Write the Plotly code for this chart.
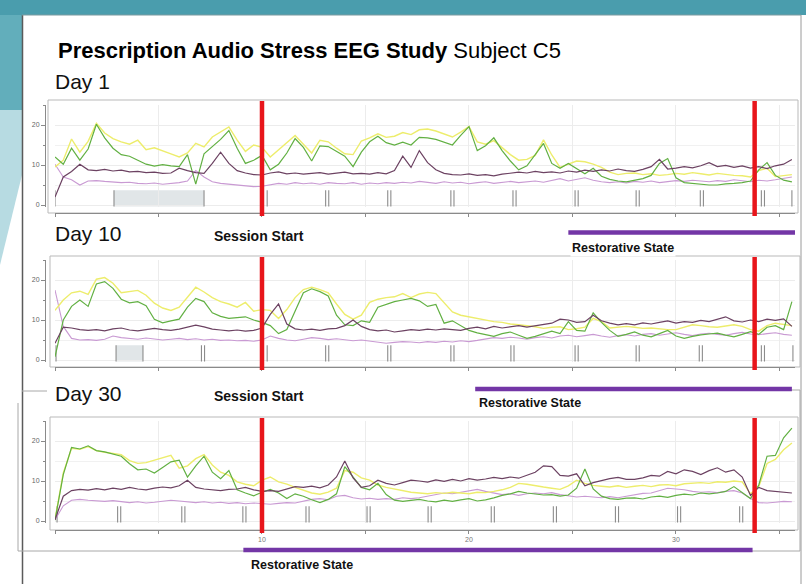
import plotly.graph_objects as go

W, H = 806, 584

# ---------------- data ----------------
minutes = [round(0.4 * i, 1) for i in range(90)]

d1_yellow = [9.5, 11.2, 16.5, 13.2, 15.9, 20.4, 18.0, 16.6, 15.8, 15.2,
             16.2, 13.8, 14.3, 13.6, 12.8, 12.0, 13.0, 15.4, 14.5, 17.0,
             18.2, 19.5, 16.2, 13.4, 15.0, 14.4, 12.0, 13.8, 15.6, 17.4,
             15.2, 13.0, 16.2, 15.8, 14.2, 12.8, 12.6, 16.0, 16.8, 17.8,
             16.9, 17.2, 18.1, 17.6, 18.8, 19.0, 18.5, 17.8, 17.0, 18.2,
             19.6, 15.8, 15.2, 16.1, 14.3, 12.6, 11.2, 11.4, 12.4, 16.3,
             12.5, 9.4, 10.2, 11.0, 10.8, 10.2, 9.4, 8.2, 7.6, 7.9,
             8.0, 7.6, 7.8, 7.4, 7.6, 7.9, 7.7, 8.1, 7.8, 7.5,
             7.9, 7.6, 7.4, 7.3, 7.0, 8.6, 9.2, 7.1, 7.3, 7.6]
d1_green = [12.0, 10.2, 14.2, 11.2, 14.0, 20.2, 16.8, 14.2, 12.6, 12.2,
            11.2, 10.2, 9.7, 10.1, 9.8, 9.6, 12.6, 5.2, 12.8, 14.6,
            16.4, 18.6, 14.2, 10.4, 11.2, 12.4, 8.8, 10.2, 13.0, 16.6,
            14.4, 11.0, 14.8, 14.6, 13.4, 12.2, 9.6, 13.2, 15.8, 17.2,
            15.6, 15.0, 15.7, 15.0, 16.9, 16.8, 16.4, 15.6, 15.0, 17.4,
            19.6, 13.6, 14.8, 16.8, 13.6, 11.0, 8.8, 9.8, 12.6, 15.4,
            10.4, 9.2, 10.4, 9.0, 7.8, 9.2, 7.2, 6.4, 6.0, 5.8,
            6.2, 6.6, 7.4, 10.4, 11.6, 6.8, 5.6, 5.4, 5.2, 5.0,
            5.0, 5.3, 5.4, 5.6, 6.0, 8.8, 10.6, 7.4, 6.2, 5.8]
d1_dark = [2.0, 7.0, 8.4, 10.2, 8.8, 8.6, 8.9, 8.5, 8.7, 8.3,
           8.4, 8.1, 8.2, 7.9, 8.0, 9.2, 8.6, 8.1, 7.9, 10.4,
           13.2, 10.4, 8.6, 8.0, 7.6, 7.5, 8.0, 8.3, 7.8, 8.0,
           7.7, 7.9, 8.1, 7.7, 7.9, 8.2, 7.8, 7.9, 7.7, 8.1,
           7.8, 8.6, 12.2, 9.4, 13.6, 10.6, 8.8, 7.9, 7.6, 7.5,
           7.8, 7.4, 7.6, 7.3, 7.7, 7.9, 8.2, 8.0, 8.4, 8.1,
           8.3, 8.0, 8.5, 8.2, 8.7, 8.4, 8.8, 8.5, 9.0, 8.6,
           8.4, 8.9, 9.6, 11.4, 9.0, 9.2, 9.6, 9.3, 9.8, 10.6,
           9.6, 9.9, 9.4, 9.8, 9.2, 9.6, 9.1, 9.8, 10.2, 11.4]
d1_pink = [10.2, 7.0, 6.3, 5.0, 6.0, 6.1, 5.9, 5.8, 5.6, 5.7,
           5.4, 5.3, 5.5, 5.2, 5.4, 5.6, 6.0, 8.6, 7.0, 5.8,
           5.4, 5.2, 5.0, 4.8, 4.6, 4.7, 5.1, 5.4, 5.2, 5.6,
           5.3, 5.5, 5.2, 5.6, 5.4, 5.3, 5.6, 5.2, 5.5, 5.3,
           5.6, 5.4, 5.7, 5.5, 5.9, 5.6, 5.4, 5.8, 5.5, 5.7,
           5.3, 5.6, 5.8, 5.4, 5.6, 5.9, 5.6, 5.8, 6.0, 5.7,
           6.2, 6.6, 6.0, 6.4, 6.8, 6.2, 5.8, 5.6, 5.8, 5.5,
           5.9, 5.7, 6.0, 5.6, 5.8, 6.1, 5.9, 6.2, 6.0, 5.8,
           6.1, 5.9, 6.3, 6.0, 5.8, 6.2, 6.0, 6.3, 6.6, 7.0]

d10_yellow = [12.4, 15.0, 16.8, 17.2, 16.4, 20.2, 20.6, 19.2, 16.8, 17.1,
              17.4, 16.2, 14.2, 13.0, 12.4, 13.2, 15.6, 18.2, 17.0, 15.6,
              14.6, 14.0, 13.2, 14.4, 12.2, 12.6, 12.4, 10.4, 12.6, 15.6,
              17.6, 18.2, 17.6, 16.8, 14.0, 11.4, 10.2, 11.2, 14.4, 15.2,
              15.6, 15.8, 16.6, 15.6, 16.5, 16.9, 16.6, 14.2, 12.0, 11.2,
              10.8, 10.5, 10.0, 9.6, 9.4, 9.0, 8.8, 8.6, 8.3, 7.9,
              8.2, 8.3, 7.6, 7.8, 8.2, 10.4, 9.6, 8.0, 8.2, 8.4,
              8.2, 7.9, 8.0, 7.8, 7.6, 7.6, 8.2, 8.8, 8.6, 8.3,
              8.2, 8.5, 8.8, 8.4, 7.6, 7.2, 8.6, 9.2, 8.9, 8.6]
d10_green = [0.8, 10.0, 13.4, 15.0, 13.4, 19.0, 19.6, 17.9, 15.2, 14.3,
             14.6, 13.6, 10.2, 9.3, 9.8, 10.2, 13.2, 15.4, 14.6, 11.8,
             10.9, 10.4, 10.6, 10.8, 10.0, 9.4, 8.6, 6.6, 7.6, 12.4,
             16.8, 17.8, 17.1, 16.0, 11.2, 8.8, 8.6, 9.8, 9.4, 13.2,
             14.0, 14.6, 15.0, 15.4, 14.8, 13.4, 13.9, 9.2, 9.8, 8.6,
             7.4, 6.8, 6.4, 5.9, 6.6, 7.0, 6.2, 5.4, 5.9, 6.6,
             7.2, 6.6, 9.6, 7.4, 7.2, 11.8, 9.4, 7.4, 5.9, 6.4,
             7.0, 6.2, 5.8, 6.6, 7.4, 6.0, 5.4, 5.9, 6.3, 6.5,
             6.7, 6.2, 5.8, 6.4, 7.1, 6.4, 8.2, 8.6, 7.6, 14.6]
d10_dark = [4.2, 8.2, 8.0, 7.6, 7.4, 7.6, 7.3, 7.8, 8.0, 7.5,
            7.3, 7.6, 7.9, 7.6, 7.4, 7.7, 8.2, 8.7, 8.3, 7.7,
            7.5, 7.3, 7.5, 7.2, 7.4, 8.0, 11.4, 14.0, 9.0, 7.8,
            7.5, 7.7, 7.4, 7.8, 7.9, 8.6, 10.0, 8.4, 7.6, 7.3,
            7.5, 7.0, 7.3, 7.6, 7.4, 7.7, 7.5, 7.8, 7.6, 7.4,
            7.9, 8.2, 7.8, 8.4, 8.0, 8.3, 8.6, 8.2, 8.5, 8.8,
            9.2, 10.2, 10.0, 9.4, 9.6, 11.2, 9.8, 9.2, 8.8, 9.1,
            8.8, 9.3, 9.0, 9.4, 9.8, 9.2, 9.6, 9.4, 9.9, 9.6,
            10.2, 10.8, 9.8, 9.5, 10.0, 9.6, 10.2, 9.9, 10.3, 8.4]
d10_pink = [17.5, 8.4, 5.4, 5.0, 5.1, 4.9, 5.2, 6.0, 5.6, 5.4,
            5.2, 5.5, 5.3, 5.0, 5.2, 5.4, 5.1, 5.3, 5.0, 5.2,
            4.9, 5.0, 4.8, 4.9, 4.7, 5.0, 6.0, 5.4, 5.0, 4.8,
            5.2, 5.6, 5.4, 5.1, 5.3, 5.0, 4.8, 5.0, 4.7, 4.5,
            4.2, 4.4, 4.6, 4.5, 4.3, 4.6, 4.4, 4.7, 4.5, 4.8,
            4.6, 4.9, 5.2, 5.6, 5.4, 5.7, 5.5, 5.2, 5.6, 5.8,
            5.5, 6.0, 6.2, 5.8, 6.1, 6.4, 6.0, 5.7, 6.1, 6.3,
            6.0, 6.4, 6.6, 6.2, 6.5, 6.8, 6.4, 6.1, 6.5, 6.7,
            6.4, 6.2, 6.6, 6.9, 6.5, 6.3, 6.6, 6.8, 6.4, 6.2]

d30_yellow = [0.4, 12.0, 18.2, 17.9, 18.6, 17.6, 17.2, 16.9, 16.6, 15.1,
              14.4, 14.6, 15.2, 15.8, 16.4, 13.2, 13.8, 15.6, 16.6, 14.0,
              12.2, 11.4, 9.8, 9.2, 8.8, 10.2, 11.0, 9.8, 9.2, 8.4,
              7.6, 7.0, 6.7, 7.2, 8.2, 12.6, 12.2, 10.8, 10.2, 9.0,
              8.4, 8.0, 7.6, 7.2, 7.0, 6.8, 7.1, 6.9, 7.2, 7.0,
              6.8, 7.2, 7.1, 7.4, 7.8, 8.4, 9.4, 9.2, 8.8, 8.5,
              8.2, 7.9, 8.8, 10.2, 9.4, 8.9, 8.7, 8.5, 8.8, 8.4,
              8.7, 8.9, 8.6, 9.0, 9.1, 8.8, 9.3, 9.5, 9.6, 9.4,
              9.8, 9.7, 10.0, 9.8, 6.8, 8.6, 14.4, 15.4, 17.8, 19.5]
d30_green = [0.2, 11.6, 18.4, 18.0, 18.8, 17.6, 17.3, 16.8, 16.2, 14.3,
             12.8, 13.0, 12.0, 13.4, 14.8, 15.2, 11.0, 13.8, 16.2, 12.2,
             10.6, 12.6, 7.8, 7.0, 6.3, 7.2, 7.9, 7.0, 5.6, 6.8,
             6.2, 5.3, 4.6, 5.4, 6.8, 13.6, 11.0, 8.4, 7.8, 9.4,
             6.6, 5.2, 4.9, 5.2, 5.4, 5.0, 4.8, 5.2, 4.9, 5.3,
             5.6, 5.0, 5.3, 5.8, 6.4, 6.8, 7.4, 7.0, 6.8, 6.5,
             6.6, 6.2, 6.5, 8.2, 13.0, 8.0, 6.2, 5.6, 5.4, 5.7,
             5.8, 5.5, 6.0, 6.2, 5.9, 6.4, 6.7, 6.5, 7.0, 6.8,
             7.0, 7.4, 8.6, 7.2, 5.6, 9.0, 16.2, 16.4, 20.8, 23.2]
d30_dark = [0.3, 6.2, 7.6, 7.9, 7.7, 8.1, 7.8, 8.2, 7.9, 8.4,
            8.0, 7.8, 8.2, 8.5, 8.3, 8.8, 10.2, 8.4, 8.0, 7.8,
            7.6, 7.9, 8.0, 8.4, 7.8, 7.4, 7.6, 7.4, 8.0, 8.6,
            8.4, 8.7, 8.3, 9.0, 11.0, 15.0, 10.8, 8.4, 8.8, 10.2,
            9.4, 9.0, 9.6, 10.2, 10.0, 9.7, 10.3, 9.9, 10.4, 10.0,
            10.6, 10.2, 10.5, 10.9, 10.6, 11.0, 10.7, 11.4, 12.2, 13.8,
            13.6, 11.4, 11.2, 11.8, 8.8, 9.6, 10.1, 10.6, 10.9, 10.4,
            10.4, 10.8, 11.4, 11.2, 12.4, 11.8, 12.8, 12.4, 11.6, 12.6,
            13.3, 12.2, 12.8, 11.0, 6.4, 8.4, 7.6, 7.4, 7.2, 7.0]
d30_pink = [0.3, 3.8, 5.2, 5.4, 5.2, 5.0, 4.9, 5.1, 4.8, 4.6,
            4.8, 4.5, 4.7, 4.9, 5.2, 5.0, 4.8, 4.6, 4.8, 4.5,
            4.7, 4.4, 4.6, 4.3, 4.5, 4.4, 4.2, 4.4, 4.6, 4.5,
            5.0, 5.4, 5.6, 5.3, 6.2, 6.4, 5.8, 5.5, 5.7, 5.4,
            5.6, 5.4, 5.8, 5.6, 5.8, 6.2, 6.6, 7.0, 6.8, 7.2,
            7.6, 7.9, 7.4, 7.0, 6.6, 6.8, 6.4, 6.8, 7.0, 6.8,
            7.1, 6.6, 6.3, 6.0, 6.2, 6.0, 5.8, 6.1, 5.8, 6.2,
            6.5, 6.9, 7.0, 7.6, 8.2, 8.0, 7.8, 7.4, 7.2, 7.3,
            7.1, 7.4, 7.6, 7.0, 5.6, 4.6, 4.5, 4.7, 4.9, 4.8]

# event markers (minutes)
d1_single = [0.0, 2.85, 7.2, 10.25, 35.6]
d1_double = [13.15, 16.15, 19.2, 22.2, 25.2, 28.15, 31.25, 34.2]
d1_shaded = [2.85, 7.2]
d10_single = [0.05, 2.95, 4.25, 10.25, 35.65]
d10_double = [7.15, 13.15, 16.15, 19.2, 22.1, 25.2, 28.15, 31.2, 34.2]
d10_shaded = [2.95, 4.25]
d30_single = [0.1]
d30_double = [3.1, 6.2, 9.15, 12.2, 15.15, 18.1, 21.15, 24.15, 27.15, 30.15, 33.15]
d30_shaded = None

session_start = [10.0, 10.0, 10.0]
session_end = [33.8, 33.8, 33.8]
restorative_start = [24.8, 20.3, 9.1]
restorative_end = [35.85, 35.6, 33.7]

x_tick_vals = [0, 5, 10, 15, 20, 25, 30, 35]
x_tick_text_bottom = ["", "", "10", "", "20", "", "30", ""]
x_tick_text_blank = ["", "", "", "", "", "", "", ""]
y_tick_vals = [0, 10, 20]

day_labels = ["Day 1", "Day 10", "Day 30"]

# ---------------- styling ----------------
YELLOW = "#eded6c"
GREEN = "#62b043"
DARK = "#6c4262"
PINK = "#c99ad3"
RED = "#e8151b"
PURPLE = "#7336a6"
TEAL = "#4a9dad"
FONT = "Liberation Sans, Arial, sans-serif"


def fx(p):
    return p / W


def fy(p):
    return 1 - p / H


panels = [
    dict(series=(d1_yellow, d1_green, d1_pink, d1_dark), single=d1_single, double=d1_double,
         shaded=d1_shaded, zero=205, axis=213, frame=(48, 100, 798, 213), ticks=x_tick_text_blank,
         bar_y=232.5, day_y=81, rest_px=(570, 248)),
    dict(series=(d10_yellow, d10_green, d10_pink, d10_dark), single=d10_single, double=d10_double,
         shaded=d10_shaded, zero=360, axis=367, frame=(50, 256, 800, 367), ticks=x_tick_text_blank,
         bar_y=389, day_y=233, rest_px=(477, 403)),
    dict(series=(d30_yellow, d30_green, d30_pink, d30_dark), single=d30_single, double=d30_double,
         shaded=d30_shaded, zero=521, axis=530, frame=(50, 417, 798, 530), ticks=x_tick_text_bottom,
         bar_y=550, day_y=393, rest_px=(249, 565)),
]

fig = go.Figure()
shapes = []
annotations = []

# slide background decoration
shapes.append(dict(type="rect", xref="paper", yref="paper", x0=0, x1=1, y0=fy(15), y1=1,
                   fillcolor=TEAL, line=dict(width=0), layer="below"))
shapes.append(dict(type="rect", xref="paper", yref="paper", x0=0, x1=fx(22), y0=fy(110), y1=fy(15),
                   fillcolor="#62aebb", line=dict(width=0), layer="below"))
shapes.append(dict(type="path", xref="paper", yref="paper",
                   path=f"M 0 {fy(110)} L {fx(22)} {fy(110)} L {fx(22)} {fy(175)} L 0 {fy(265)} Z",
                   fillcolor="#b7dbe2", line=dict(width=0), layer="below"))
shapes.append(dict(type="line", xref="paper", yref="paper", x0=fx(22.5), x1=fx(22.5), y0=0, y1=fy(15),
                   line=dict(color="#5a5a5a", width=1.5), layer="below"))
shapes.append(dict(type="line", xref="paper", yref="paper", x0=fx(22), x1=fx(801), y0=fy(15), y1=fy(15),
                   line=dict(color="#7a9aa0", width=1), layer="below"))
shapes.append(dict(type="line", xref="paper", yref="paper", x0=fx(801), x1=fx(801), y0=0, y1=fy(15),
                   line=dict(color="#9a9a9a", width=1), layer="below"))
# Day 30 picture frame
for (a, b, c, d) in [(18, 403, 18, 551), (18, 551, 800, 551), (800, 390, 800, 551),
                     (22, 391, 47, 391), (757, 390, 800, 390)]:
    shapes.append(dict(type="line", xref="paper", yref="paper", x0=fx(a), x1=fx(c), y0=fy(b), y1=fy(d),
                       line=dict(color="#a8a8a8", width=1), layer="below"))

layout_axes = {}
OFF = 0.075
for i, p in enumerate(panels):
    n = "" if i == 0 else str(i + 1)
    xa, ya = "x" + n, "y" + n
    x0p, y0p, x1p, y1p = p["frame"]
    shapes.append(dict(type="rect", xref="paper", yref="paper", x0=fx(x0p), x1=fx(x1p), y0=fy(y1p), y1=fy(y0p),
                       line=dict(color="#b9b9b9", width=1), fillcolor="rgba(0,0,0,0)", layer="below"))
    if p["shaded"]:
        shapes.append(dict(type="rect", xref=xa, yref=ya, x0=p["shaded"][0], x1=p["shaded"][1], y0=-0.35, y1=3.7,
                           fillcolor="#e1e6e8", line=dict(width=0), layer="below"))
    z = p["zero"]
    layout_axes["xaxis" + n] = dict(
        domain=[fx(55), fx(795)], range=[0, 35.75], anchor="free", position=fy(p["axis"]),
        showline=True, linecolor="#8a8a8a", linewidth=1, ticks="outside", ticklen=3, tickcolor="#8a8a8a",
        tickvals=x_tick_vals, ticktext=p["ticks"], tickfont=dict(size=7, color="#777777", family=FONT),
        showgrid=True, gridcolor="#ececec", gridwidth=1, zeroline=False, fixedrange=True)
    layout_axes["yaxis" + n] = dict(
        domain=[fy(z + 2.4), fy(z - 100)], range=[-0.6, 25], anchor="free", position=fx(45),
        showline=True, linecolor="#8a8a8a", linewidth=1, ticks="outside", ticklen=4, tickcolor="#8a8a8a",
        tickvals=y_tick_vals, tickfont=dict(size=7, color="#666666", family=FONT),
        minor=dict(tickvals=[5, 15, 25], ticks="outside", ticklen=2, tickcolor="#8a8a8a",
                   showgrid=True, gridcolor="#f1f1f1"),
        showgrid=True, gridcolor="#ececec", zeroline=False, fixedrange=True)

    # event markers
    mx, my = [], []
    for t in p["single"]:
        mx += [t, t, None]
        my += [-0.35, 3.7, None]
    for t in p["double"]:
        for o in (-OFF, OFF):
            mx += [t + o, t + o, None]
            my += [-0.35, 3.7, None]
    fig.add_trace(go.Scatter(x=mx, y=my, mode="lines", line=dict(color="#8c8c8c", width=1.1),
                             xaxis=xa, yaxis=ya, showlegend=False, hoverinfo="skip"))

    yel, grn, pnk, drk = p["series"]
    for vals, col, wd in [(pnk, PINK, 1.1), (yel, YELLOW, 1.4), (grn, GREEN, 1.2), (drk, DARK, 1.2)]:
        fig.add_trace(go.Scatter(x=minutes, y=vals, mode="lines", line=dict(color=col, width=wd),
                                 xaxis=xa, yaxis=ya, showlegend=False, hoverinfo="skip"))

    # session start/end red lines
    for t in (session_start[i], session_end[i]):
        shapes.append(dict(type="line", xref=xa, yref="paper", x0=t, x1=t, y0=fy(y1p + 3), y1=fy(y0p + 1),
                           line=dict(color=RED, width=4.5), layer="above"))
    # restorative state bar
    shapes.append(dict(type="line", xref=xa, yref="paper", x0=restorative_start[i], x1=restorative_end[i],
                       y0=fy(p["bar_y"]), y1=fy(p["bar_y"]), line=dict(color=PURPLE, width=4.5), layer="above"))
    rx, ry = p["rest_px"]
    annotations.append(dict(text="<b>Restorative State</b>", xref="paper", yref="paper", x=fx(rx), y=fy(ry),
                            xanchor="left", yanchor="middle", showarrow=False, bgcolor="white",
                            font=dict(family=FONT, size=12.5, color="#111111")))
    annotations.append(dict(text=day_labels[i], xref="paper", yref="paper", x=fx(53), y=fy(p["day_y"]),
                            xanchor="left", yanchor="middle", showarrow=False, bgcolor="white",
                            font=dict(family=FONT, size=21, color="#111111")))

for yy in (236, 396):
    annotations.append(dict(text="<b>Session Start</b>", xref="paper", yref="paper", x=fx(212), y=fy(yy),
                            xanchor="left", yanchor="middle", showarrow=False,
                            font=dict(family=FONT, size=14, color="#111111")))

annotations.append(dict(text="<b>Prescription Audio Stress EEG Study</b> Subject C5", xref="paper", yref="paper",
                        x=fx(56), y=fy(51), xanchor="left", yanchor="middle", showarrow=False,
                        font=dict(family=FONT, size=22, color="#000000")))

fig.update_layout(width=W, height=H, margin=dict(l=0, r=0, t=0, b=0), paper_bgcolor="white",
                  plot_bgcolor="rgba(0,0,0,0)", shapes=shapes, annotations=annotations,
                  showlegend=False, **layout_axes)

fig.write_html("out.html", config={"displayModeBar": False},
               post_script="document.body.style.margin='0';document.body.style.overflow='hidden';")
